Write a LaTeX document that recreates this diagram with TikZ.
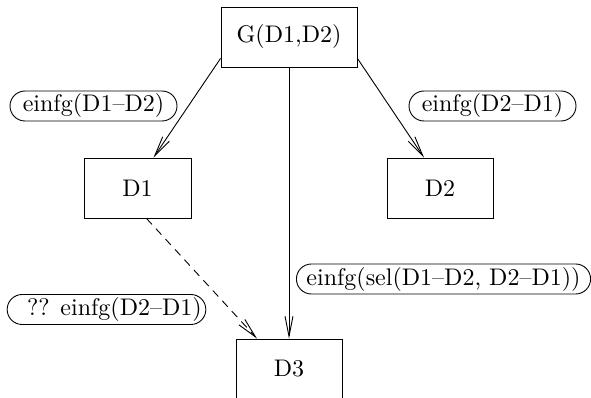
\documentclass[tikz,border=0pt]{standalone}
\usepackage{fontspec}
\setmainfont{lmroman10-regular}[Extension=.otf]
\usepackage{tikz}
\usetikzlibrary{arrows.meta,positioning}

\begin{document}
\begin{tikzpicture}[x=1pt, y=-1pt, font=\fontsize{24}{28}\selectfont,
          line width=0.9pt,
          box/.style={draw, minimum height=60pt, inner sep=0pt},
          lbl/.style={draw, rounded corners=15pt, minimum height=30pt,
                      inner xsep=10pt, inner ysep=0pt},
          arr/.style={-{Straight Barb[length=20pt,width=8pt]}}]
        \useasboundingbox (0,0) rectangle (591,398);
        \clip (0,0) rectangle (591,398);
        \node[box, minimum width=136pt] (g)  at (289,37)    {G(D1,D2)};
        \node[box, minimum width=107pt] (d1) at (137.5,188) {D1};
        \node[box, minimum width=106pt] (d2) at (440,188)   {D2};
        \node[box, minimum width=106pt] (d3) at (289,369)   {D3};
        % labels
        \node[lbl, minimum width=167pt] (l12)  at (93.5,106)  {einfg(D1--D2)};
        \node[lbl, minimum width=167pt] (l21)  at (492.5,106) {einfg(D2--D1)};
        \node[lbl, minimum width=293pt] (lsel) at (443.5,279) {einfg(sel(D1--D2, D2--D1))};
        \node[lbl, minimum width=197pt, inner xsep=4pt] (lq) at (106.5,309.5)
          {\hspace*{16pt}?? einfg(D2--D1)};
        % connectors
        \draw[arr] ([yshift=9pt]g.south west) -- ([xshift=16pt]d1.north);
        \draw[arr] ([yshift=9pt]g.south east) -- ([xshift=-16pt]d2.north);
        \draw[arr] (g.south) -- (d3.north);
        \draw[arr, dash pattern=on 8pt off 6pt] ([xshift=9pt]d1.south) -- ([xshift=-32pt]d3.north);
\end{tikzpicture}
\end{document}
